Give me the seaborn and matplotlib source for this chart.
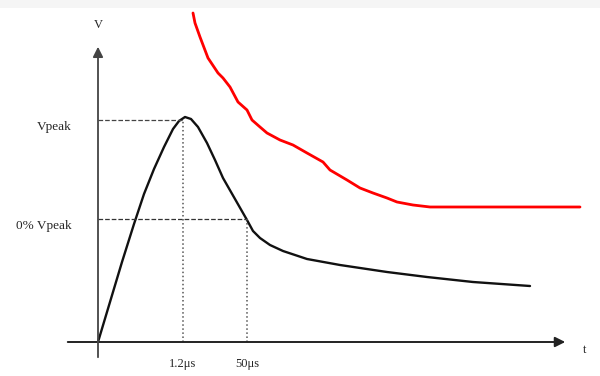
import pandas as pd
import matplotlib.pyplot as plt
import seaborn as sns

# impulse voltage waveform (units: t to the right, V up, origin at axes crossing)
t_impulse = [0, 12, 24, 36, 46, 56, 66, 75, 81, 87, 93, 100, 109, 117, 125, 133, 141, 149,
             155, 162, 172, 185, 209, 242, 289, 329, 375, 432]
v_impulse = [0, 40, 80, 118, 148, 173, 195, 213, 221, 225, 223, 215, 199, 182, 164, 150, 136, 122,
             111, 104, 97, 91, 83, 77, 70, 65, 60, 56]

# red envelope curve
t_red = [95, 97, 102, 110, 120, 125, 132, 140, 149, 154, 162, 169, 182, 195, 209, 225, 232,
         249, 262, 275, 289, 299, 315, 332, 482]
v_red = [329, 319, 305, 284, 269, 264, 255, 240, 232, 222, 215, 209, 202, 197, 189, 180, 172,
         162, 154, 149, 144, 140, 137, 135, 135]

v_peak = 222
v_half = 123
t_front = 85
t_tail = 149
tick_labels = ['1.2\u03bcs', '50\u03bcs']

sns.set_style('white')
plt.rcParams['font.family'] = ['Liberation Serif', 'DejaVu Serif']

fig = plt.figure(figsize=(6, 3.76), dpi=100)
ax = fig.add_axes([0, 0, 1, 1])
ax.set_xlim(-98, 502)
ax.set_ylim(-34, 342)
ax.axis('off')

# faint band at top
ax.axhspan(334, 342, color='#f5f5f5', lw=0)

df_imp = pd.DataFrame({'t': t_impulse, 'v': v_impulse})
df_red = pd.DataFrame({'t': t_red, 'v': v_red})
sns.lineplot(data=df_imp, x='t', y='v', sort=False, color='#111111', lw=1.7, ax=ax)
sns.lineplot(data=df_red, x='t', y='v', sort=False, color='#ff0000', lw=2.0, ax=ax)

# axes with arrows
ax.annotate('', xy=(470, 0), xytext=(-33, 0),
            arrowprops=dict(arrowstyle='-|>', color='#222222', lw=1.4, mutation_scale=15))
ax.annotate('', xy=(0, 298), xytext=(0, -18),
            arrowprops=dict(arrowstyle='-|>', color='#444444', lw=1.3, mutation_scale=15))
ax.text(0, 317, 'V', ha='center', va='center', fontsize=9)
ax.text(487, -8, 't', ha='center', va='center', fontsize=9)

# guide lines
ax.plot([0, t_front], [v_peak, v_peak], ls='--', color='#444444', lw=0.9)
ax.plot([0, t_tail], [v_half, v_half], ls='--', color='#333333', lw=0.9)
ax.plot([t_front, t_front], [0, v_peak], ls=':', color='#555555', lw=1.1)
ax.plot([t_tail, t_tail], [0, v_half], ls=':', color='#555555', lw=1.1)

ax.text(-26, v_peak - 7, 'Vpeak', ha='right', va='center', fontsize=9.5)
ax.text(-26, v_half - 7, '0% Vpeak', ha='right', va='center', fontsize=9.5)
ax.text(t_front, -22, tick_labels[0], ha='center', va='center', fontsize=9)
ax.text(t_tail, -22, tick_labels[1], ha='center', va='center', fontsize=9)

fig.savefig('out.png', dpi=100)
